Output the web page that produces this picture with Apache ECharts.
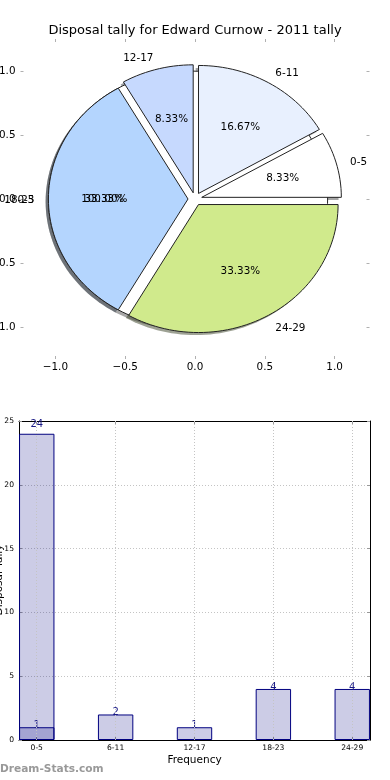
<!DOCTYPE html>
<html><head><meta charset="utf-8">
<script src="https://cdn.jsdelivr.net/npm/echarts@6/dist/echarts.min.js"></script>
<style>html,body{margin:0;padding:0;background:#fff}#c{width:390px;height:780px}</style>
</head><body><div id="c"></div>
<script>
// ---- data ----
const pieLabels = ['0-5', '6-11', '12-17', '18-23', '24-29'];
const pieValues = [1, 2, 1, 4, 4];
const overlayPieLabels = ['0-5'];
const overlayPieValues = [1];
const pieTicks = [-1, -0.5, 0, 0.5, 1];
const barCategories = ['0-5', '6-11', '12-17', '18-23', '24-29'];
const barValues = [24, 2, 1, 4, 4];
const overlayBarValues = [1];

// ---- styles ----
const FONT = '"DejaVu Sans"';
const pieColors = ['#ffffff', '#e8f0fe', '#c6d9fe', '#b4d5fe', '#d0ea8c'];
const overlayColors = ['#ffffff'];
const EXPL = 0.05;

function layoutPie(values) {
  const tot = values.reduce((a, b) => a + b, 0);
  let a = 0;
  return values.map(v => {
    const t1 = a, t2 = a + 360 * v / tot; a = t2;
    const mid = (t1 + t2) / 2 * Math.PI / 180;
    return { t1, t2, mid, cx: EXPL * Math.cos(mid), cy: EXPL * Math.sin(mid),
      pct: 100 * v / tot, full: Math.abs(t2 - t1 - 360) < 1e-9 };
  });
}
const overlayLayout = layoutPie(overlayPieValues).map((s, i) => Object.assign(s, { label: overlayPieLabels[i], color: overlayColors[i] }));
const mainLayout = layoutPie(pieValues).map((s, i) => Object.assign(s, { label: pieLabels[i], color: pieColors[i] }));
const allSlices = overlayLayout.concat(mainLayout);

function wedgePts(api, s, dx, dy) {
  const pts = [];
  const cx = s.cx + dx, cy = s.cy + dy;
  if (!s.full) pts.push(api.coord([cx, cy]));
  const n = Math.max(6, Math.ceil((s.t2 - s.t1) / 2));
  for (let k = 0; k <= n; k++) {
    const t = (s.t1 + (s.t2 - s.t1) * k / n) * Math.PI / 180;
    pts.push(api.coord([cx + Math.cos(t), cy + Math.sin(t)]));
  }
  return pts;
}
function shade(hex) {
  const r = parseInt(hex.slice(1, 3), 16), g = parseInt(hex.slice(3, 5), 16), b = parseInt(hex.slice(5, 7), 16);
  return 'rgba(' + Math.round(r * 0.3) + ',' + Math.round(g * 0.3) + ',' + Math.round(b * 0.3) + ',0.5)';
}
function pieSeries(slices, z, kind) {
  return {
    type: 'custom', coordinateSystem: 'cartesian2d', xAxisIndex: 0, yAxisIndex: 0,
    clip: false, silent: true, z: z,
    data: slices.map(s => [0, 0, s.pct]),
    renderItem: function (params, api) {
      const s = slices[params.dataIndex];
      if (kind === 'shadow') {
        return { type: 'polygon', shape: { points: wedgePts(api, s, -0.02, -0.02) }, style: { fill: shade(s.color), stroke: null } };
      }
      if (kind === 'wedge') {
        return { type: 'polygon', shape: { points: wedgePts(api, s, 0, 0) }, style: { fill: s.color, stroke: '#222', lineWidth: 1 } };
      }
      const lx = s.cx + 1.1 * Math.cos(s.mid), ly = s.cy + 1.1 * Math.sin(s.mid);
      const px = s.cx + 0.6 * Math.cos(s.mid), py = s.cy + 0.6 * Math.sin(s.mid);
      const lp = api.coord([lx, ly]), pp = api.coord([px, py]);
      return { type: 'group', children: [
        { type: 'text', style: { text: s.label, x: lp[0], y: lp[1] + 1.5, align: lx > 0 ? 'left' : 'right', verticalAlign: 'middle', fill: '#000', font: '10.4px ' + FONT } },
        { type: 'text', style: { text: s.pct.toFixed(2) + '%', x: pp[0], y: pp[1] + 0.5, align: 'center', verticalAlign: 'middle', fill: '#000', font: '10.4px ' + FONT } }
      ] };
    }
  };
}

const minus = v => (v < 0 ? '\u2212' : '') + Math.abs(v).toFixed(1);
const hiddenLine = { show: true, onZero: false, lineStyle: { color: 'rgba(0,0,0,0)', width: 1 } };
const frameLine = { show: true, onZero: false, lineStyle: { color: '#000', width: 1 } };
const pieTick = { show: true, inside: true, length: 3, lineStyle: { color: '#b0b0b0', width: 1 }, customValues: pieTicks };
const catIdx = barCategories.map((c, i) => i);
const barXTick = { show: true, inside: true, length: 3, lineStyle: { color: '#999', width: 1 }, customValues: catIdx };
const barYTick = { show: true, inside: true, length: 3, lineStyle: { color: '#999', width: 1 } };

const option = {
  animation: false,
  title: { text: 'Disposal tally for Edward Curnow - 2011 tally', left: 'center', top: 24, padding: 0,
    textStyle: { fontFamily: FONT, fontSize: 13, fontWeight: 'normal', color: '#000' } },
  grid: [
    { left: 20.5, top: 39, width: 349, height: 320, containLabel: false, outerBoundsMode: 'none' },
    { left: 19, top: 421, width: 351, height: 319, containLabel: false, outerBoundsMode: 'none' }
  ],
  xAxis: [
    { gridIndex: 0, type: 'value', min: -1.25, max: 1.25, position: 'bottom', axisLine: hiddenLine, splitLine: { show: false },
      axisTick: pieTick, axisLabel: { customValues: pieTicks, formatter: minus, margin: 3, color: '#000', fontSize: 10.4, fontFamily: FONT } },
    { gridIndex: 0, type: 'value', min: -1.25, max: 1.25, position: 'top', axisLine: hiddenLine, splitLine: { show: false },
      axisTick: pieTick, axisLabel: { show: false } },
    { gridIndex: 1, type: 'value', min: -0.225, max: 4.225, position: 'bottom',
      axisLine: frameLine, splitLine: { show: false },
      axisTick: barXTick,
      axisLabel: { customValues: catIdx, formatter: v => barCategories[Math.round(v)], margin: 4, color: '#000', fontSize: 7.6, fontFamily: FONT },
      name: 'Frequency', nameLocation: 'middle', nameGap: 15,
      nameTextStyle: { color: '#000', fontSize: 10.5, fontFamily: FONT } },
    { gridIndex: 1, type: 'value', min: -0.225, max: 4.225, position: 'top',
      axisLine: frameLine, splitLine: { show: false },
      axisTick: barXTick, axisLabel: { show: false } }
  ],
  yAxis: [
    { gridIndex: 0, type: 'value', min: -1.25, max: 1.25, position: 'left', axisLine: hiddenLine, splitLine: { show: false },
      axisTick: pieTick, axisLabel: { customValues: pieTicks, formatter: minus, margin: 5, color: '#000', fontSize: 10.4, fontFamily: FONT } },
    { gridIndex: 0, type: 'value', min: -1.25, max: 1.25, position: 'right', axisLine: hiddenLine, splitLine: { show: false },
      axisTick: pieTick, axisLabel: { show: false } },
    { gridIndex: 1, type: 'value', min: 0, max: 25, interval: 5, position: 'left',
      axisLine: frameLine,
      splitLine: { show: true, lineStyle: { color: '#c4c4c4', type: [1, 2], width: 1 } },
      axisTick: barYTick, axisLabel: { margin: 5, color: '#000', fontSize: 7.6, fontFamily: FONT } },
    { gridIndex: 1, type: 'value', min: 0, max: 25, interval: 5, position: 'right',
      axisLine: frameLine, splitLine: { show: false },
      axisTick: barYTick, axisLabel: { show: false } }
  ],
  graphic: [
    { type: 'text', x: -1, y: 580, rotation: Math.PI / 2, silent: true,
      style: { text: 'Disposal Tally', fill: '#000', font: '10.5px ' + FONT, align: 'center', verticalAlign: 'middle' } },
    { type: 'text', left: 0, top: 764, silent: true,
      style: { text: 'Dream-Stats.com', fill: '#999999', font: 'bold 10.6px ' + FONT } }
  ],
  series: [
    pieSeries(allSlices, 1, 'shadow'),
    pieSeries(overlayLayout, 2, 'wedge'),
    pieSeries(mainLayout, 3, 'wedge'),
    pieSeries(allSlices, 4, 'label'),
    { type: 'bar', xAxisIndex: 2, yAxisIndex: 2, barWidth: 35.4, barGap: '-100%', z: 3,
      data: barValues.map((v, i) => i === 0 ? { value: [i, v], label: { offset: [0, -7] } } : [i, v]),
      itemStyle: { color: 'rgba(0,0,128,0.2)', borderColor: '#000080', borderWidth: 1 },
      label: { show: true, position: 'top', distance: -3, color: '#1a1a86', fontSize: 10, fontFamily: FONT },
      markLine: { silent: true, symbol: 'none', label: { show: false },
        lineStyle: { color: '#c4c4c4', type: [1, 2], width: 1 },
        data: catIdx.map(i => ({ xAxis: i })) } },
    { type: 'bar', xAxisIndex: 2, yAxisIndex: 2, barWidth: 35.4, barGap: '-100%', z: 3,
      data: overlayBarValues.map((v, i) => [i, v]),
      itemStyle: { color: 'rgba(0,0,128,0.2)', borderColor: '#000080', borderWidth: 1 },
      label: { show: true, position: 'top', distance: -3, color: '#1a1a86', fontSize: 10, fontFamily: FONT } }
  ]
};
const chart = echarts.init(document.getElementById('c'), null, { renderer: 'canvas' });
chart.setOption(option);
</script></body></html>
